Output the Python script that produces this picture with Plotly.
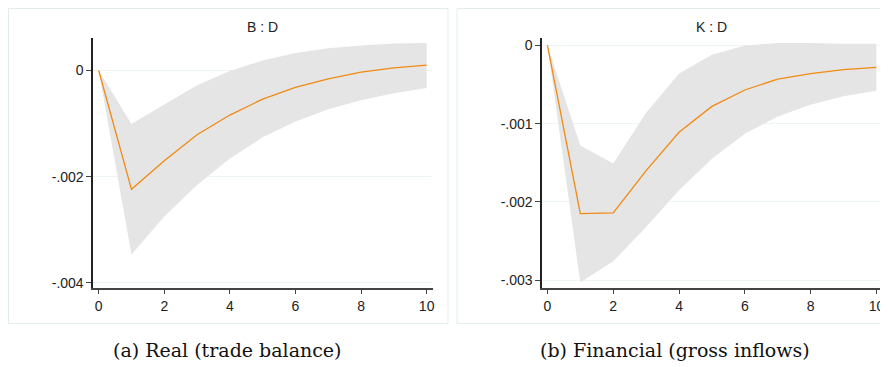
import plotly.graph_objects as go

steps = [0, 1, 2, 3, 4, 5, 6, 7, 8, 9, 10]

# Panel (a): B : D
b_irf = [0, -0.00224, -0.00170, -0.00121, -0.00084, -0.00054, -0.00032, -0.000156, -0.00003, 0.00005, 0.00010]
b_upper = [0, -0.00101, -0.00064, -0.00028, -0.00001, 0.00019, 0.00033, 0.00042, 0.00047, 0.00051, 0.00052]
b_lower = [0, -0.00347, -0.00275, -0.00216, -0.00166, -0.00126, -0.00096, -0.00073, -0.00056, -0.00043, -0.00033]

# Panel (b): K : D
k_irf = [0, -0.00215, -0.00214, -0.00160, -0.00111, -0.00078, -0.00057, -0.00043, -0.00036, -0.00031, -0.00028]
k_upper = [0, -0.00128, -0.00151, -0.00086, -0.00036, -0.00012, 0.0, 0.00003, 0.00003, 0.00002, 0.00002]
k_lower = [0, -0.00303, -0.00276, -0.00232, -0.00185, -0.00145, -0.00113, -0.00091, -0.00076, -0.00065, -0.00058]

x_ticks = [0, 2, 4, 6, 8, 10]
b_yticks = [0, -0.002, -0.004]
b_yticklabels = ["0", "-.002", "-.004"]
k_yticks = [0, -0.001, -0.002, -0.003]
k_yticklabels = ["0", "-.001", "-.002", "-.003"]

titles = ["B : D", "K : D"]
captions = ["(a) Real (trade balance)", "(b) Financial (gross inflows)"]

# the page body has an 8px margin, so the figure is laid out in page pixels minus 8
OFF = 8
W, H = 888 - OFF, 367 - OFF
BAND = "#e5e5e5"
LINE = "#f08a12"
GRID = "#eef5f5"
FRAME = "#e3ecec"


def px(v):
    return (v - OFF) / W


def py(v):
    return 1 - (v - OFF) / H


fig = go.Figure()

panels = [
    dict(irf=b_irf, up=b_upper, lo=b_lower, xa="x", ya="y"),
    dict(irf=k_irf, up=k_upper, lo=k_lower, xa="x2", ya="y2"),
]
for p in panels:
    fig.add_trace(go.Scatter(x=steps, y=p["lo"], mode="lines", line=dict(width=0),
                             hoverinfo="skip", showlegend=False, xaxis=p["xa"], yaxis=p["ya"]))
    fig.add_trace(go.Scatter(x=steps, y=p["up"], mode="lines", line=dict(width=0),
                             fill="tonexty", fillcolor=BAND, showlegend=False,
                             xaxis=p["xa"], yaxis=p["ya"]))
    fig.add_trace(go.Scatter(x=steps, y=p["irf"], mode="lines", line=dict(color=LINE, width=1.3),
                             showlegend=False, xaxis=p["xa"], yaxis=p["ya"]))

tickfont = dict(family="Liberation Sans, Arial, sans-serif", size=14, color="#222")


def xaxis(domain, rng, anchor):
    return dict(domain=domain, range=rng, anchor=anchor, tickvals=x_ticks,
                ticktext=[str(v) for v in x_ticks], showgrid=False, zeroline=False,
                showline=True, linecolor="#444", linewidth=1.5, ticks="outside",
                ticklen=5, tickcolor="#444", tickfont=tickfont)


def yaxis(domain, rng, anchor, vals, text):
    return dict(domain=domain, range=rng, anchor=anchor, tickvals=vals, ticktext=text,
                showgrid=True, gridcolor=GRID, gridwidth=1, zeroline=False,
                showline=True, linecolor="#222", linewidth=1.5, ticks="outside",
                ticklen=5, tickcolor="#444", tickfont=tickfont)


ydom = [py(290), py(38)]
fig.update_layout(
    width=W, height=H,
    margin=dict(l=0, r=0, t=0, b=0),
    paper_bgcolor="white", plot_bgcolor="white",
    xaxis=xaxis([px(93.5), px(434)], [-0.167, 10.18], "y"),
    yaxis=yaxis(ydom, [-0.004093, 0.000617], "x", b_yticks, b_yticklabels),
    xaxis2=xaxis([px(544), px(884)], [-0.16, 10.14], "y2"),
    yaxis2=yaxis(ydom, [-0.003096, 0.0000976], "x2", k_yticks, k_yticklabels),
)

# panel frames
for x0, x1 in [(8.5, 449.5), (458.5, 892)]:
    fig.add_shape(type="rect", xref="paper", yref="paper",
                  x0=px(x0), x1=px(x1), y0=py(326), y1=py(8.5),
                  line=dict(color=FRAME, width=1), layer="below")

# subplot titles
for xc, t in [(263.5, titles[0]), (714, titles[1])]:
    fig.add_annotation(x=px(xc), y=py(27), xref="paper", yref="paper", text=t,
                       xanchor="center", yanchor="middle", showarrow=False,
                       font=dict(family="Liberation Sans, Arial, sans-serif", size=14, color="#222"))

# captions
for xc, t in [(228, captions[0]), (677, captions[1])]:
    fig.add_annotation(x=px(xc), y=py(353), xref="paper", yref="paper", text=t,
                       xanchor="center", yanchor="middle", showarrow=False,
                       font=dict(family="DejaVu Serif, serif", size=19, color="#111"))

fig.write_html("out.html")
